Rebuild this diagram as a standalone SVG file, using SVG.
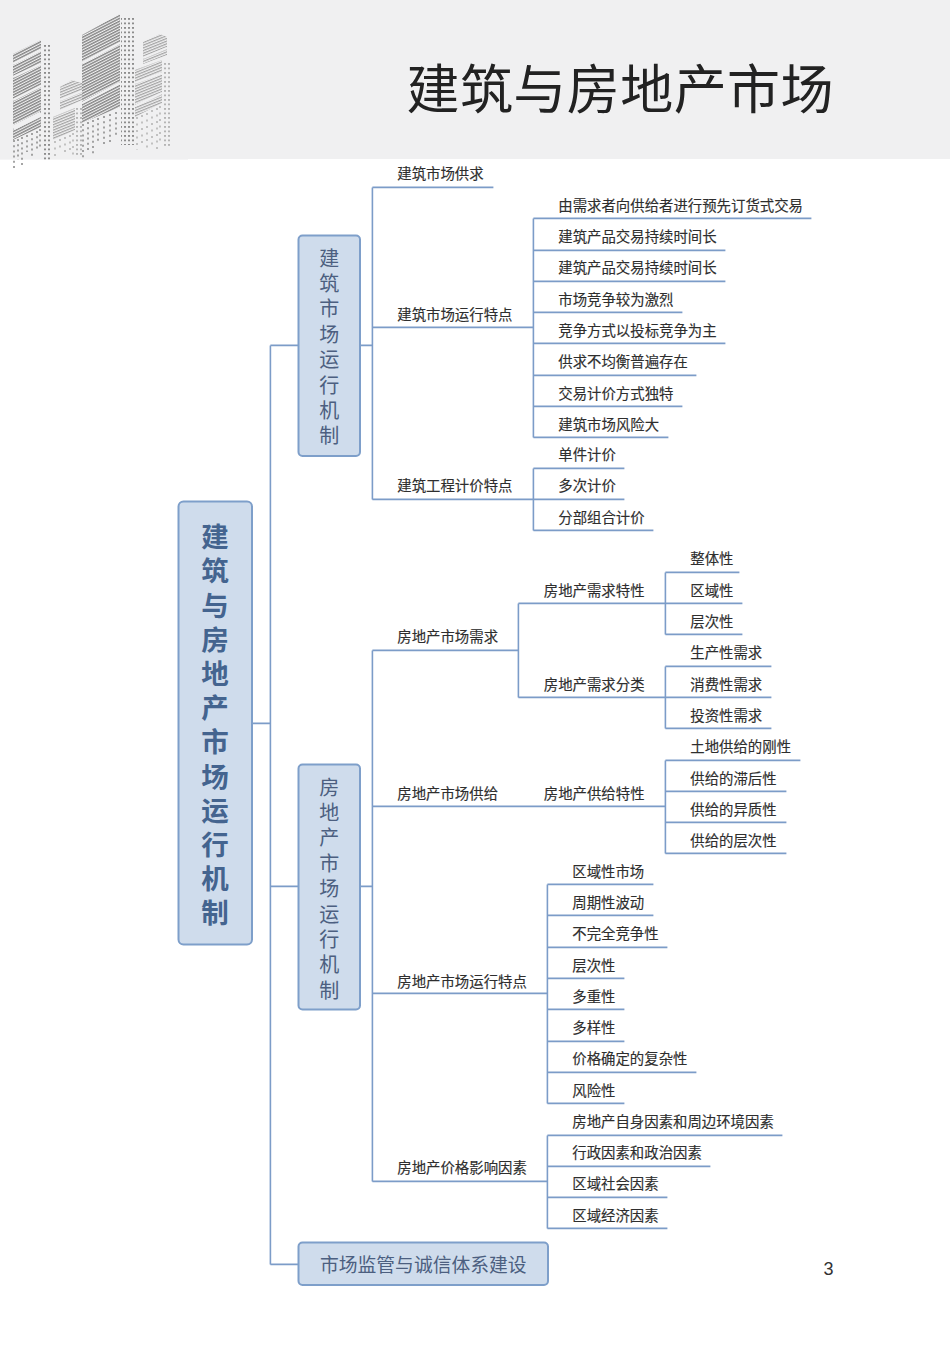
<svg xmlns="http://www.w3.org/2000/svg" width="950" height="1345" viewBox="0 0 950 1345">
<style>
text{font-family:"Noto Sans CJK SC","Noto Sans",sans-serif}
.l{font-size:14.4px;fill:#2e2e2e;stroke:#2e2e2e;stroke-width:.15}
.b{fill:#cfdcec;stroke:#7e9fca;stroke-width:2}
.c{fill:none;stroke:#7c9cc8;stroke-width:1.6}
.v{font-size:20px;fill:#4c5f80;writing-mode:vertical-rl;text-orientation:upright;letter-spacing:5.4px}
.r{font-size:27.5px;font-weight:700;fill:#44648f;writing-mode:vertical-rl;text-orientation:upright;letter-spacing:6.7px}
.d{fill:none;stroke:#8f8f8f;stroke-width:1.6;stroke-dasharray:2 3.2}
.e{fill:none;stroke:#a8a8a8;stroke-width:1.3;stroke-dasharray:2 4.5}
</style>
<defs>
<pattern id="st" width="4" height="2.5" patternUnits="userSpaceOnUse" patternTransform="rotate(-27)"><rect width="4" height="1.4" fill="#858585"/></pattern>
<pattern id="st2" width="4" height="2.5" patternUnits="userSpaceOnUse" patternTransform="rotate(-22)"><rect width="4" height="1.2" fill="#a3a3a3"/></pattern>
<pattern id="dt" width="4" height="4.500" patternUnits="userSpaceOnUse"><rect width="2" height="1.8" fill="#8d8d8d"/></pattern>
</defs>
<rect id="header" width="950" height="159" fill="#f0f0f1"/>
<rect x="0" y="159" width="188" height="1" fill="#f5f5f6"/>
<g id="city">
<polygon points="143,42 160,34 167,37 167,55 143,64" fill="url(#st2)"/>
<polygon points="135,70 162,60 162,103 135,117" fill="url(#st2)"/>
<rect x="162" y="62" width="8" height="86" fill="url(#dt)" opacity=".6"/>
<path class="e" d="M137,117V150M142,115V146M147,113V152M152,110V147M157,108V150M160,106V144"/>
<polygon points="60,87 72,80 82,83 82,100 60,110" fill="url(#st2)"/>
<polygon points="53,117 75,108 75,130 53,140" fill="url(#st2)"/>
<rect x="75" y="108" width="7" height="48" fill="url(#dt)" opacity=".6"/>
<path class="e" d="M55,141V158M60,139V152M65,137V156M70,135V150M73,133V158"/>
<polygon points="13,54 41,40 41,127 13,140" fill="url(#st)"/>
<rect x="42" y="44" width="10" height="116" fill="url(#dt)"/>
<path class="d" d="M14,140V168M18,139V160M22,137V166M27,135V152M32,133V156M37,131V150M40,129V148"/>
<polygon points="82,35 120,14 120,107 82,123" fill="url(#st)"/>
<rect x="121" y="17" width="14" height="128" fill="url(#dt)"/>
<path class="d" d="M83,124V158M88,122V150M93,120V155M98,118V144M104,116V146M110,114V142M116,112V138"/>
<g fill="none" stroke="#f0f0f1" stroke-width="2.2">
<path d="M13,64 L41,50M13,77 L41,64M13,100 L41,86"/>
<path d="M13,128 L41,114" stroke-width="5"/>
<path d="M82,63 L120,43M82,103 L120,83"/>
<path d="M135,83 L162,73M135,106 L162,93M60,100 L82,91M143,58 L167,48"/>
</g>
</g>
<text id="title" x="406.500" y="108.500" font-size="53" fill="#222" textLength="427" lengthAdjust="spacing">建筑与房地产市场</text>
<g id="connectors" class="c" transform="translate(.4 .4)">
<path d="M252,723H270M270,345V1264M270,345H298M270,886H298M270,1264H298"/>
<path d="M360,345H372M372,187V499M372,187H493M372,327H533M372,499H533"/>
<path d="M533,218V437M533,218H811M533,250H725M533,281H725M533,312H682M533,343H725M533,375H696M533,406H682M533,437H668"/>
<path d="M533,468V530M533,468H624M533,499H624M533,530H653"/>
<path d="M360,886H372M372,650V1181M372,650H518M372,806H665M372,993H547M372,1181H547"/>
<path d="M518,603V697M518,603H665M518,697H665"/>
<path d="M665,572V634M665,572H739M665,603H742M665,634H742"/>
<path d="M665,666V728M665,666H771M665,697H771M665,728H771"/>
<path d="M665,760V853M665,760H800M665,791H786M665,822H786M665,853H786"/>
<path d="M547,884V1103M547,884H653M547,915H653M547,947H667M547,978H624M547,1009H624M547,1041H624M547,1072H696M547,1103H624"/>
<path d="M547,1135V1228M547,1135H782M547,1166H710M547,1197H667M547,1228H667"/>
</g>
<g id="root"><rect class="b" x="178.500" y="501.500" width="73.500" height="443" rx="5"/>
<text class="r" x="215" y="523">建筑与房地产市场运行机制</text></g>
<g id="n-jianzhu"><rect class="b" x="298.500" y="235.500" width="61.500" height="220.500" rx="4"/>
<text class="v" x="329.300" y="248">建筑市场运行机制</text></g>
<g id="n-fangdichan"><rect class="b" x="298.500" y="764.500" width="61.500" height="245" rx="4"/>
<text class="v" x="329.300" y="777">房地产市场运行机制</text></g>
<g id="n-jianguan"><rect class="b" x="298.500" y="1242.500" width="249.500" height="42.500" rx="4"/>
<text x="320" y="1272" font-size="18.800" fill="#4c5f80">市场监管与诚信体系建设</text></g>
<g id="labels" class="l" transform="translate(.3 .4)">
<text x="397" y="179">建筑市场供求</text>
<text x="397" y="320">建筑市场运行特点</text>
<text x="397" y="491">建筑工程计价特点</text>
<text x="558" y="211">由需求者向供给者进行预先订货式交易</text>
<text x="558" y="242">建筑产品交易持续时间长</text>
<text x="558" y="273">建筑产品交易持续时间长</text>
<text x="558" y="305">市场竞争较为激烈</text>
<text x="558" y="336">竞争方式以投标竞争为主</text>
<text x="558" y="367">供求不均衡普遍存在</text>
<text x="558" y="399">交易计价方式独特</text>
<text x="558" y="430">建筑市场风险大</text>
<text x="558" y="460">单件计价</text>
<text x="558" y="491">多次计价</text>
<text x="558" y="523">分部组合计价</text>
<text x="397" y="642">房地产市场需求</text>
<text x="397" y="799">房地产市场供给</text>
<text x="397" y="987">房地产市场运行特点</text>
<text x="397" y="1173">房地产价格影响因素</text>
<text x="543.500" y="596">房地产需求特性</text>
<text x="543.500" y="690">房地产需求分类</text>
<text x="543.500" y="799">房地产供给特性</text>
<text x="690" y="564">整体性</text>
<text x="690" y="596">区域性</text>
<text x="690" y="627">层次性</text>
<text x="690" y="658">生产性需求</text>
<text x="690" y="690">消费性需求</text>
<text x="690" y="721">投资性需求</text>
<text x="690" y="752">土地供给的刚性</text>
<text x="690" y="784">供给的滞后性</text>
<text x="690" y="815">供给的异质性</text>
<text x="690" y="846">供给的层次性</text>
<text x="572" y="877">区域性市场</text>
<text x="572" y="908">周期性波动</text>
<text x="572" y="939">不完全竞争性</text>
<text x="572" y="971">层次性</text>
<text x="572" y="1002">多重性</text>
<text x="572" y="1033">多样性</text>
<text x="572" y="1064">价格确定的复杂性</text>
<text x="572" y="1096">风险性</text>
<text x="572" y="1127">房地产自身因素和周边环境因素</text>
<text x="572" y="1158">行政因素和政治因素</text>
<text x="572" y="1189">区域社会因素</text>
<text x="572" y="1221">区域经济因素</text>
</g>
<text id="page" x="823.500" y="1274.500" font-size="18" fill="#333" style="font-family:'Liberation Sans',sans-serif">3</text>
</svg>
